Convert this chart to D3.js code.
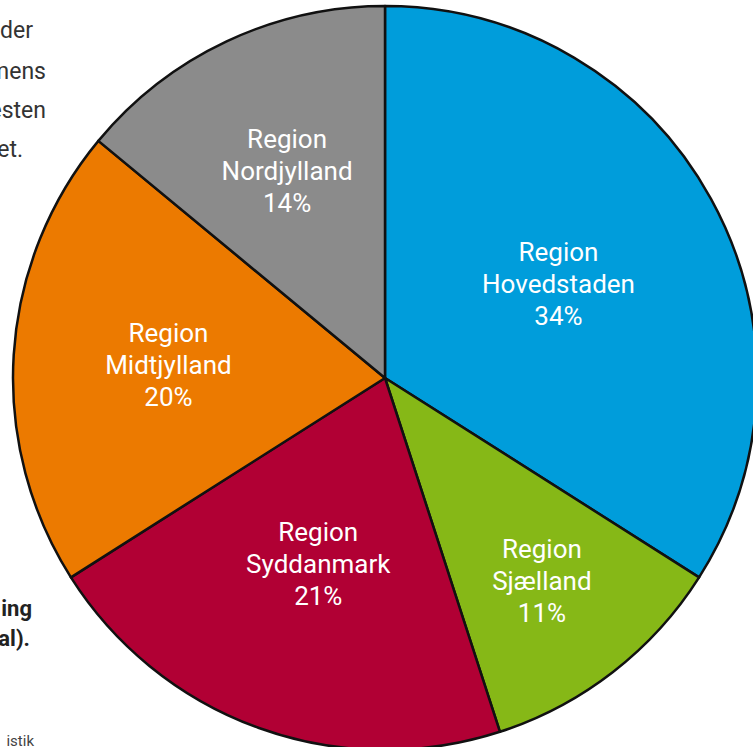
<!DOCTYPE html>
<html>
<head>
<meta charset="utf-8">
<script src="https://cdn.jsdelivr.net/npm/d3@7"></script>
<style>
  body { margin: 0; background: #fff; }
  svg { display: block; }
  .label { fill: #fff; font-family: "Roboto", "Liberation Sans", sans-serif; font-size: 26px; text-anchor: middle; }
  .side { fill: #333; font-family: "Roboto", "Liberation Sans", sans-serif; font-size: 23px; text-anchor: end; }
</style>
</head>
<body>
<script>
// regions and their share of the total (percent)
const regions = ["Region Hovedstaden", "Region Sjælland", "Region Syddanmark", "Region Midtjylland", "Region Nordjylland"];
const shares = [34, 11, 21, 20, 14];
const colors = ["#009ddb", "#86b817", "#b10034", "#ec7a00", "#8b8b8b"];

// label radius (layout only)
const labelRadius = [198, 256, 197, 217, 230];

const width = 753, height = 747;
const cx = 385, cy = 378, R = 372;

const svg = d3.select("body").append("svg")
    .attr("width", width)
    .attr("height", height);

// cut-off text from the page behind the chart
const sideText = [
    {t: "der", x: 33, y: 38}, {t: "mens", x: 46, y: 79}, {t: "esten", x: 46, y: 118}, {t: "et.", x: 23, y: 157}
];
svg.selectAll("text.side")
    .data(sideText)
    .join("text")
    .attr("class", "side")
    .attr("x", d => d.x)
    .attr("y", d => d.y)
    .text(d => d.t);

svg.append("text").attr("class", "side").attr("x", 32).attr("y", 616)
    .style("font-weight", "bold").style("fill", "#222").style("font-size", "22px").text("ing");
svg.append("text").attr("class", "side").attr("x", 30).attr("y", 646)
    .style("font-weight", "bold").style("fill", "#222").style("font-size", "22px").text("al).");
svg.append("text").attr("class", "side").attr("x", 34).attr("y", 746)
    .style("font-size", "15px").style("fill", "#444").text("istik");

const data = regions.map((r, i) => ({name: r, value: shares[i], color: colors[i], lr: labelRadius[i]}));

const pie = d3.pie().sort(null).value(d => d.value);
const arc = d3.arc().innerRadius(0).outerRadius(R);

const g = svg.append("g").attr("transform", `translate(${cx},${cy})`);
const arcs = pie(data);

g.selectAll("path")
    .data(arcs)
    .join("path")
    .attr("d", arc)
    .attr("fill", d => d.data.color)
    .attr("stroke", "#111")
    .attr("stroke-width", 2.5)
    .attr("stroke-linejoin", "round");

const labels = g.selectAll("text.label")
    .data(arcs)
    .join("text")
    .attr("class", "label")
    .attr("transform", function(d) {
        let a = (d.startAngle + d.endAngle) / 2;
        return `translate(${Math.sin(a) * d.data.lr},${-Math.cos(a) * d.data.lr})`;
    });

labels.each(function(d) {
    const parts = d.data.name.split(" ");
    const lines = [parts[0], parts.slice(1).join(" "), d.data.value + "%"];
    d3.select(this).selectAll("tspan")
        .data(lines)
        .join("tspan")
        .attr("x", 0)
        .attr("y", (l, i) => (i - 1) * 32 + 10)
        .text(l => l);
});
</script>
</body>
</html>
